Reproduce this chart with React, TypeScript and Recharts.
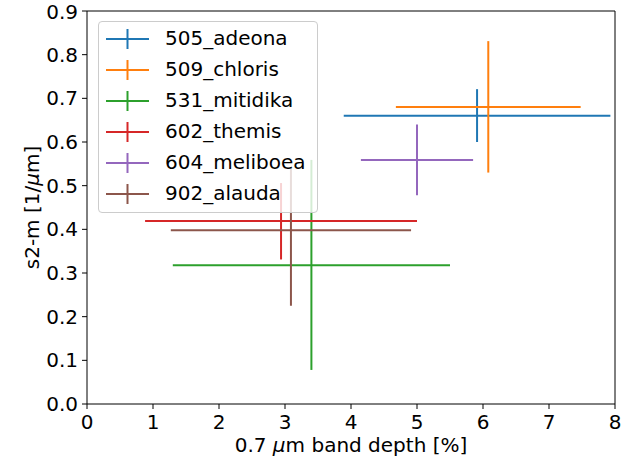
import React from "react";
import {
  ScatterChart,
  Scatter,
  XAxis,
  YAxis,
  ErrorBar,
  Legend,
  ReferenceLine,
} from "recharts";

// asteroid families, band depth vs spectral slope
const families = [
  "505_adeona",
  "509_chloris",
  "531_mitidika",
  "602_themis",
  "604_meliboea",
  "902_alauda",
];
const colors = ["#1f77b4", "#ff7f0e", "#2ca02c", "#d62728", "#9467bd", "#8c564b"];
const bandDepth = [5.91, 6.08, 3.4, 2.94, 5.0, 3.09];
const bandDepthErr = [2.02, 1.4, 2.1, 2.06, 0.85, 1.82];
const slope = [0.66, 0.68, 0.318, 0.419, 0.559, 0.398];
const slopeErrLow = [0.06, 0.15, 0.24, 0.088, 0.081, 0.173];
const slopeErrHigh = [0.061, 0.151, 0.241, 0.087, 0.081, 0.142];

const xTicks = [0, 1, 2, 3, 4, 5, 6, 7, 8];
const yTicks = [0, 0.1, 0.2, 0.3, 0.4, 0.5, 0.6, 0.7, 0.8, 0.9];

const FONT = "'DejaVu Sans', sans-serif";
const FS = 20;

const seriesData = families.map((name, i) => [
  {
    name,
    x: bandDepth[i],
    y: slope[i],
    ex: bandDepthErr[i],
    ey: [slopeErrLow[i], slopeErrHigh[i]],
  },
]);

const NoMarker = () => <g />;

function FamilyLegend() {
  return (
    <div
      style={{
        width: 218,
        height: 189,
        paddingTop: 1,
        boxSizing: "content-box",
        border: "1px solid #cccccc",
        borderRadius: 4,
        background: "rgba(255,255,255,0.8)",
        fontFamily: FONT,
        fontSize: FS,
        color: "#000",
      }}
    >
      {families.map((name, i) => (
        <div
          key={name}
          style={{ display: "flex", alignItems: "center", height: 31 }}
        >
          <svg width={43} height={22} style={{ marginLeft: 7, marginRight: 16 }}>
            <line x1={0} x2={43} y1={11} y2={11} stroke={colors[i]} strokeWidth={2} />
            <line x1={21.5} x2={21.5} y1={1} y2={21} stroke={colors[i]} strokeWidth={2} />
          </svg>
          <span style={{ lineHeight: "31px" }}>{name}</span>
        </div>
      ))}
    </div>
  );
}

export default function App() {
  return (
    <div style={{ position: "fixed", left: 0, top: 0, background: "#fff" }}>
      <ScatterChart
        width={640}
        height={466}
        margin={{ top: 11, right: 25, bottom: 0, left: 0 }}
      >
        <XAxis
          type="number"
          dataKey="x"
          domain={[0, 8]}
          ticks={xTicks}
          height={62}
          tickSize={5}
          tickMargin={6}
          stroke="#000"
          tick={{ fontSize: FS, fontFamily: FONT, fill: "#000" }}
          label={({ viewBox }: any) => (
            <text
              x={viewBox.x + viewBox.width / 2}
              y={viewBox.y + 48}
              textAnchor="middle"
              fontFamily={FONT}
              fontSize={FS}
              fill="#000"
            >
              0.7 <tspan fontStyle="italic">μ</tspan>m band depth [%]
            </text>
          )}
        />
        <YAxis
          type="number"
          dataKey="y"
          domain={[0, 0.9]}
          ticks={yTicks}
          width={87}
          tickSize={5}
          tickMargin={4}
          stroke="#000"
          tickFormatter={(v: number) => v.toFixed(1)}
          tick={{ fontSize: FS, fontFamily: FONT, fill: "#000" }}
          label={({ viewBox }: any) => {
            const cx = 39;
            const cy = viewBox.y + viewBox.height / 2;
            return (
              <text
                x={cx}
                y={cy}
                transform={`rotate(-90 ${cx} ${cy})`}
                textAnchor="middle"
                fontFamily={FONT}
                fontSize={FS}
                fill="#000"
              >
                s2-m [1/<tspan fontStyle="italic">μ</tspan>m]
              </text>
            );
          }}
        />
        <ReferenceLine x={8} stroke="#000" ifOverflow="visible" />
        <ReferenceLine y={0.9} stroke="#000" ifOverflow="visible" />
        {seriesData.map((d, i) => (
          <Scatter
            key={families[i]}
            name={families[i]}
            data={d}
            fill={colors[i]}
            shape={NoMarker}
            isAnimationActive={false}
          >
            <ErrorBar
              dataKey="ex"
              direction="x"
              width={0}
              stroke={colors[i]}
              strokeWidth={2}
              isAnimationActive={false}
            />
            <ErrorBar
              dataKey="ey"
              direction="y"
              width={0}
              stroke={colors[i]}
              strokeWidth={2}
              isAnimationActive={false}
            />
          </Scatter>
        ))}
        <Legend
          layout="vertical"
          align="center"
          verticalAlign="middle"
          content={() => <FamilyLegend />}
          wrapperStyle={{ left: 98, top: 21, width: "auto", height: "auto" }}
        />
      </ScatterChart>
    </div>
  );
}
